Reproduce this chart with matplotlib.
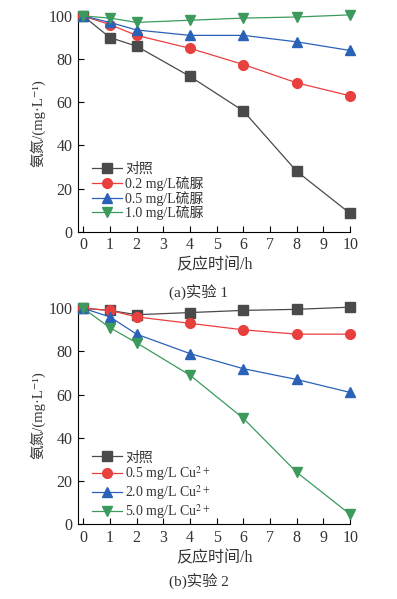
import matplotlib
matplotlib.use("Agg")
import matplotlib.pyplot as plt

plt.rcParams['font.family'] = ['Liberation Serif', 'Noto Sans CJK SC', 'DejaVu Sans']
plt.rcParams['mathtext.fontset'] = 'stix'

# ============================================================
# 데이터
# ============================================================
hours = [0, 1, 2, 4, 6, 8, 10]

# (a) 实验1
a_labels = ["对照", "0.2 mg/L硫脲", "0.5 mg/L硫脲", "1.0 mg/L硫脲"]
a_ctrl = [100, 90, 86, 72, 56, 28, 8.5]
a_02 = [100, 96, 91, 85, 77.5, 69, 63]
a_05 = [100, 97, 93.5, 91, 91, 88, 84]
a_10 = [100, 99, 97, 98, 99, 99.5, 100.5]

# (b) 实验2
b_labels = ["对照", "0.5 mg/L Cu$^{2+}$", "2.0 mg/L Cu$^{2+}$", "5.0 mg/L Cu$^{2+}$"]
b_ctrl = [100, 99, 97, 98, 99, 99.5, 100.5]
b_05 = [100, 99, 96, 93, 90, 88, 88]
b_20 = [100, 96, 88, 79, 72, 67, 61]
b_50 = [100, 91, 84, 69, 49, 24, 4.5]

x_ticks = list(range(0, 11))
y_ticks = [0, 20, 40, 60, 80, 100]

colors = ["#4a4a4a", "#e8403f", "#2a62b8", "#3b9a5c"]
markers = ["s", "o", "^", "v"]

fig = plt.figure(figsize=(3.97, 5.99), dpi=100)
ax_a = fig.add_axes([0.196, 0.613, 0.686, 0.364])
ax_b = fig.add_axes([0.196, 0.125, 0.686, 0.364])


def draw_panel(ax, series, labels, caption, cap_y, leg_y):
    for vals, lab, c, m in zip(series, labels, colors, markers):
        ax.plot(hours, vals, color=c, marker=m, markersize=7, linewidth=0.9,
                label=lab, clip_on=False, zorder=3)
    ax.set_xlim(-0.2, 10)
    ax.set_ylim(0, 101)
    ax.set_xticks(x_ticks)
    ax.set_yticks(y_ticks)
    ax.tick_params(direction="in", length=4, width=0.8, labelsize=11.5,
                   labelcolor="#333333", pad=4)
    ax.spines["top"].set_visible(False)
    ax.spines["right"].set_visible(False)
    ax.set_xlabel("反应时间/h", fontsize=11.5, color="#333333", labelpad=3)
    ax.set_ylabel("氨氮/(mg·L⁻¹)", fontsize=10.5, color="#333333", labelpad=2)
    ax.legend(loc="upper left", bbox_to_anchor=(0.051, leg_y), frameon=False,
              fontsize=10, handlelength=2.15, handletextpad=0.25,
              labelspacing=0.0, borderaxespad=0, borderpad=0,
              labelcolor="#333333")
    fig.text(0.5, cap_y, caption, ha="center", va="center", fontsize=11,
             color="#333333")


draw_panel(ax_a, [a_ctrl, a_02, a_05, a_10], a_labels, "(a)实验 1", 1 - 293 / 599, 0.317)
draw_panel(ax_b, [b_ctrl, b_05, b_20, b_50], b_labels, "(b)实验 2", 1 - 582 / 599, 0.335)

plt.savefig("out.png", dpi=100)
